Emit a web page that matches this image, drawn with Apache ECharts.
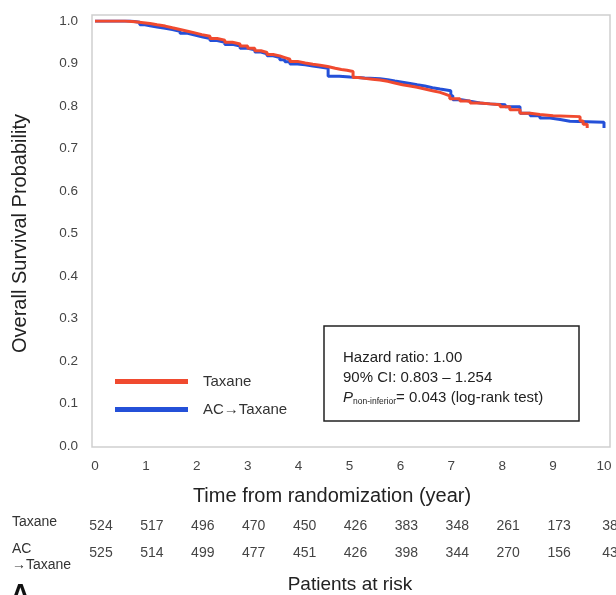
<!DOCTYPE html>
<html>
<head>
<meta charset="utf-8">
<script src="https://cdn.jsdelivr.net/npm/echarts@6/dist/echarts.min.js"></script>
<style>
html, body { margin: 0; padding: 0; background: #fff; }
#chart { width: 616px; height: 595px; }
</style>
</head>
<body>
<div id="chart"></div>
<script>
// Kaplan-Meier steps, [year, survival]
var taxaneKM = [
  [0, 1.0], [0.59, 0.998], [0.79, 0.996], [0.95, 0.994], [1.08, 0.991], [1.22, 0.988],
  [1.38, 0.984], [1.52, 0.980], [1.67, 0.976], [1.82, 0.972], [1.96, 0.968], [2.10, 0.964],
  [2.26, 0.959], [2.40, 0.955], [2.55, 0.950], [2.70, 0.946], [2.85, 0.941], [3.00, 0.936],
  [3.14, 0.930], [3.26, 0.926], [3.38, 0.921], [3.50, 0.918], [3.63, 0.914], [3.73, 0.910],
  [3.83, 0.905], [3.98, 0.901], [4.13, 0.898], [4.28, 0.896], [4.42, 0.893], [4.57, 0.889],
  [4.72, 0.886], [4.84, 0.884], [4.95, 0.881], [5.07, 0.867], [5.18, 0.865], [5.30, 0.863],
  [5.45, 0.861], [5.60, 0.858], [5.75, 0.854], [5.89, 0.850], [6.04, 0.847], [6.19, 0.844],
  [6.33, 0.840], [6.48, 0.836], [6.63, 0.832], [6.78, 0.828], [6.88, 0.824], [6.97, 0.817],
  [7.17, 0.812], [7.37, 0.807], [7.56, 0.805], [7.76, 0.803], [7.96, 0.798], [8.15, 0.791],
  [8.35, 0.783], [8.55, 0.780], [8.74, 0.777], [9.00, 0.775], [9.53, 0.765], [9.59, 0.757],
  [9.67, 0.748]
];
var acTaxaneKM = [
  [0, 1.0], [0.69, 0.997], [0.88, 0.991], [0.98, 0.989], [1.08, 0.986], [1.22, 0.983],
  [1.38, 0.980], [1.52, 0.976], [1.67, 0.971], [1.82, 0.967], [1.96, 0.963], [2.10, 0.959],
  [2.26, 0.954], [2.40, 0.950], [2.55, 0.945], [2.70, 0.941], [2.85, 0.936], [3.00, 0.932],
  [3.14, 0.927], [3.26, 0.923], [3.38, 0.918], [3.50, 0.914], [3.63, 0.909], [3.73, 0.904],
  [3.83, 0.899], [3.98, 0.897], [4.13, 0.894], [4.28, 0.892], [4.42, 0.889], [4.58, 0.870],
  [4.80, 0.868], [5.01, 0.866], [5.30, 0.864], [5.60, 0.862], [5.75, 0.859], [5.89, 0.856],
  [6.04, 0.853], [6.19, 0.850], [6.33, 0.847], [6.48, 0.843], [6.63, 0.840], [6.78, 0.836],
  [6.99, 0.824], [7.03, 0.815], [7.20, 0.811], [7.37, 0.807], [7.56, 0.805], [7.76, 0.803],
  [8.06, 0.798], [8.35, 0.783], [8.55, 0.777], [8.74, 0.772], [8.94, 0.768], [9.14, 0.764],
  [9.33, 0.762], [10.0, 0.748]
];
var riskYears = [0, 1, 2, 3, 4, 5, 6, 7, 8, 9, 10];
var riskTaxane = [524, 517, 496, 470, 450, 426, 383, 348, 261, 173, 38];
var riskAC = [525, 514, 499, 477, 451, 426, 398, 344, 270, 156, 43];

var FONT = '"Liberation Sans", Arial, sans-serif';
var RED = '#f04a2f';
var BLUE = '#2450d8';

var chart = echarts.init(document.getElementById('chart'));

var option = {
    backgroundColor: '#fff',
    animation: false,
    textStyle: { fontFamily: FONT },
    grid: { left: 95, right: 12, top: 21, bottom: 149 },
    legend: {
        left: 110,
        top: 369,
        orient: 'vertical',
        itemWidth: 73,
        itemHeight: 5,
        itemGap: 13,
        icon: 'rect',
        textStyle: { fontFamily: FONT, fontSize: 15, color: '#333', padding: [0, 0, 0, 10] },
        data: ['Taxane', 'AC\u2192Taxane']
    },
    xAxis: {
        type: 'value',
        min: 0,
        max: 10,
        interval: 1,
        name: 'Time from randomization (year)',
        nameLocation: 'middle',
        nameGap: 40,
        nameTextStyle: { fontFamily: FONT, fontSize: 20, color: '#222', padding: [0, 35, 0, 0] },
        axisLine: { show: false },
        axisTick: { show: false },
        splitLine: { show: false },
        axisLabel: { fontFamily: FONT, fontSize: 13.5, color: '#444', margin: 13 }
    },
    yAxis: {
        type: 'value',
        min: 0,
        max: 1,
        interval: 0.1,
        name: 'Overall Survival Probability',
        nameLocation: 'middle',
        nameGap: 65,
        nameTextStyle: { fontFamily: FONT, fontSize: 20, color: '#222' },
        axisLine: { show: false },
        axisTick: { show: false },
        splitLine: { show: false },
        axisLabel: {
            fontFamily: FONT, fontSize: 13.5, color: '#444', margin: 17,
            formatter: function (v) { return v.toFixed(1); }
        }
    },
    series: [
        {
            name: 'AC\u2192Taxane',
            type: 'line',
            step: 'end',
            showSymbol: false,
            data: acTaxaneKM,
            color: BLUE,
            lineStyle: { width: 3, color: BLUE },
            z: 2
        },
        {
            name: 'Taxane',
            type: 'line',
            step: 'end',
            showSymbol: false,
            data: taxaneKM,
            color: RED,
            lineStyle: { width: 3, color: RED },
            z: 3
        }
    ]
};
chart.setOption(option);

// frame, stats box and at-risk table
var graphics = [
    {
        type: 'rect',
        shape: { x: 92, y: 15, width: 518, height: 432 },
        style: { fill: 'none', stroke: '#cfcfcf', lineWidth: 1.5 },
        silent: true
    },
    {
        type: 'rect',
        shape: { x: 324, y: 326, width: 255, height: 95 },
        style: { fill: '#fff', stroke: '#222', lineWidth: 1.5 }
    },
    {
        type: 'text',
        left: 343,
        top: 348,
        style: {
            text: 'Hazard ratio: 1.00\n90% CI: 0.803 \u2013 1.254\n{p|P}{sub|non-inferior}= 0.043 (log-rank test)',
            font: '15px ' + FONT,
            fill: '#222',
            lineHeight: 20,
            rich: {
                p: { fontStyle: 'italic', fontSize: 15, fontFamily: FONT, fill: '#222' },
                sub: { fontSize: 8.5, fontFamily: FONT, fill: '#222', padding: [8, 0, 0, 0] }
            }
        }
    },
    {
        type: 'text', left: 12, top: 515,
        style: { text: 'Taxane', font: '14px ' + FONT, fill: '#333' }
    },
    {
        type: 'text', left: 12, top: 541,
        style: { text: 'AC\n\u2192Taxane', font: '14px ' + FONT, fill: '#333', lineHeight: 16 }
    },
    {
        type: 'text', x: 350, y: 585,
        style: { text: 'Patients at risk', font: '19px ' + FONT, fill: '#222', align: 'center', verticalAlign: 'middle' }
    },
    {
        type: 'text', left: 11, top: 582,
        style: { text: 'A', font: 'bold 26px ' + FONT, fill: '#111' }
    }
];

riskYears.forEach(function (t, i) {
    var px = chart.convertToPixel({ xAxisIndex: 0 }, t) + 6;
    graphics.push({
        type: 'text', x: px, y: 526,
        style: { text: String(riskTaxane[i]), font: '14px ' + FONT, fill: '#444', align: 'center', verticalAlign: 'middle' }
    });
    graphics.push({
        type: 'text', x: px, y: 553,
        style: { text: String(riskAC[i]), font: '14px ' + FONT, fill: '#444', align: 'center', verticalAlign: 'middle' }
    });
});

chart.setOption({ graphic: graphics });
</script>
</body>
</html>
